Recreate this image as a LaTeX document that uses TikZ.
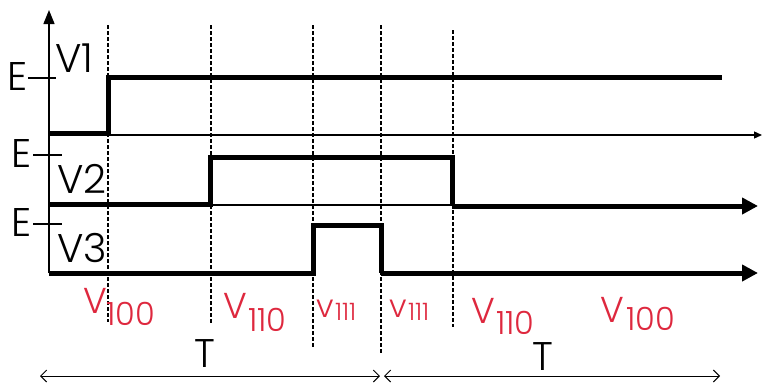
\documentclass[tikz,border=0pt]{standalone}
\usepackage{fontspec}
\setmainfont{Poppins}[UprightFont={* Light}]
\usetikzlibrary{arrows.meta}
\definecolor{lred}{RGB}{222,40,62}
\tikzset{
  sig/.style={line width=5pt, line cap=butt, line join=miter},
  axis/.style={line width=1.3pt},
  guide/.style={line width=2pt, dash pattern=on 4pt off 2pt},
  lbl/.style={inner sep=0pt, font=\fontsize{40}{40}\selectfont},
  big/.style={inner sep=0pt, text=lred, font=\fontsize{36}{36}\selectfont},
  sub/.style={inner sep=0pt, text=lred, font=\fontsize{32}{32}\selectfont},
  smallv/.style={inner sep=0pt, text=lred, font=\fontsize{32}{32}\selectfont},
  smallsub/.style={inner sep=0pt, text=lred, font=\fontsize{24}{24}\selectfont},
  dim/.style={line width=1pt, {Straight Barb[length=6pt]}-{Straight Barb[length=6pt]}},
}
\begin{document}
\begin{tikzpicture}[x=1pt,y=-1pt]
\useasboundingbox (0,0) rectangle (762,383);
% coordinates
\coordinate (o) at (49,273);
\coordinate (top) at (49,10);
% vertical axis
\draw[axis,-{Triangle[length=14pt,width=11pt]}] (o) -- (top);
% V1 axis thin
\coordinate (a1s) at (49,135);
\coordinate (a1e) at (762,135);
\draw[axis,-{Triangle[length=8pt,width=7pt]}] (a1s) -- (a1e);
% V2 thin baseline under high part
\draw[axis] (210,205) -- (452,205);
% dashed guides
\foreach \x/\yb/\yt in {108/322/25, 211/323/25, 313/348/25, 381/354/25, 453/327/30}
  \draw[guide] (\x,\yt) -- (\x,\yb);
% V1 signal
\draw[sig] (49,133) -- (108,133) -- (108,77) -- (722,77);
% V2 signal
\draw[sig] (49,204) -- (210,204) -- (210,157) -- (452,157) -- (452,206);
\draw[sig,-{Triangle[length=16pt,width=16pt]}] (452,206) -- (758,206);
% V3 signal
\draw[sig] (49,273) -- (313,273) -- (313,225) -- (381,225) -- (381,273);
\draw[sig,-{Triangle[length=16pt,width=16pt]}] (381,273) -- (758,273);
% E ticks
\draw[axis] (28,78) -- (56,78);
\draw[axis] (33,155) -- (62,155);
\draw[axis] (33,224) -- (62,224);
\node[lbl,anchor=base east] (e1) at (28,90) {E};
\node[lbl,anchor=base east] (e2) at (32,167) {E};
\node[lbl,anchor=base east] (e3) at (32,236) {E};
\node[lbl,anchor=base west] (v1) at (55,72) {V1};
\node[lbl,anchor=base west] (v2) at (57,193) {V2};
\node[lbl,anchor=base west] (v3) at (57,262) {V3};
% state labels
\node[big,anchor=base west] (s1) at (83,313) {V};
\node[sub,anchor=base west] (s1s) at (106,325) {100};
\node[big,anchor=base west] (s2) at (223,318) {V};
\node[sub,anchor=base west] (s2s) at (248,331) {110};
\node[smallv,anchor=base west] (s3) at (316,317) {v};
\node[smallsub,anchor=base west] (s3s) at (335,320) {111};
\node[smallv,anchor=base west] (s4) at (389,317) {v};
\node[smallsub,anchor=base west] (s4s) at (408,320) {111};
\node[big,anchor=base west] (s5) at (471,323) {V};
\node[sub,anchor=base west] (s5s) at (496,334) {110};
\node[big,anchor=base west] (s6) at (600,322) {V};
\node[sub,anchor=base west] (s6s) at (626,330) {100};
% period arrows
\coordinate (p0) at (40,376);
\coordinate (p1) at (380,376);
\coordinate (p2) at (384,376);
\coordinate (p3) at (720,376);
\draw[dim] (p0) -- (p1);
\draw[dim] (p2) -- (p3);
\node[lbl,anchor=base] (t1) at (205,367) {T};
\node[lbl,anchor=base] (t2) at (543,370) {T};
\end{tikzpicture}
\end{document}
